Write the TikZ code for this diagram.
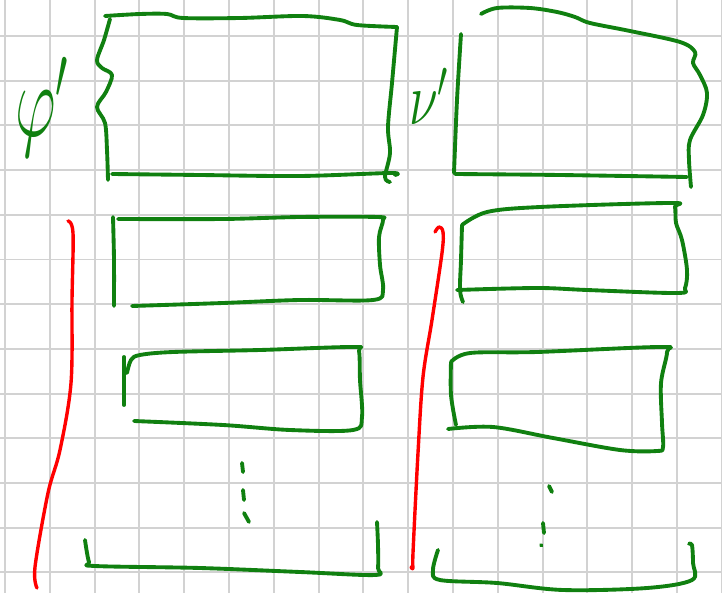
\documentclass[tikz,border=0pt]{standalone}
\usepackage{fix-cm}
\usepackage{graphicx}
\definecolor{inkgreen}{RGB}{16,128,16}
\definecolor{inkred}{RGB}{255,0,0}
\definecolor{gridgray}{RGB}{210,210,210}
\begin{document}
\begin{tikzpicture}[x=0.03cm,y=-0.03cm,line cap=round,line join=round,
  gridline/.style={gridgray,line width=1.7pt},
  pen/.style={inkgreen,line width=3.3pt},
  redpen/.style={inkred,line width=2.9pt},
  hand/.style={smooth,tension=0.55}]
  \useasboundingbox (0,0) rectangle (722,593);
  \fill[white] (0,0) rectangle (722,593);
  \foreach \gx in {0,...,16} \draw[gridline] ({5+44.8*\gx},0) -- ({5+44.8*\gx},593);
  \foreach \gy in {0,...,12} \draw[gridline] (0,{36+44.7*\gy}) -- (722,{36+44.7*\gy});
  % labels
  \node[inkgreen,anchor=base west,inner sep=0pt] (phi) at (15,137) {\fontsize{90}{90}\selectfont\scalebox{0.6}[1]{$\varphi'$}};
  \node[inkgreen,anchor=base west,inner sep=0pt] (nu) at (409,125) {\fontsize{64}{64}\selectfont\scalebox{0.7}[1]{$\nu'$}};
  % top left block
  \draw[pen] plot[hand] coordinates {(110,19) (104,40) (97,60) (102,68) (112,75) (106,92) (97,107) (105,123) (107,150) (108,180)};
  \draw[pen] plot[hand] coordinates {(105,16) (140,14) (167,14) (183,18) (240,18) (303,16) (340,20) (357,25) (397,27)};
  \draw[pen] plot[hand] coordinates {(397,27) (392,83) (388,127) (390,153) (385,177) (390,182)};
  \draw[pen] plot[hand] coordinates {(112,174) (200,175) (300,176) (390,173) (395,175)};
  % top right block
  \draw[pen] plot[hand] coordinates {(481,14) (497,8) (530,8) (557,12) (575,17) (590,23) (630,31) (680,42) (695,52) (693,63) (700,75) (707,93) (703,115) (690,140) (689,160) (691,187)};
  \draw[pen] plot[hand] coordinates {(461,34) (457,100) (454,173)};
  \draw[pen] plot[hand] coordinates {(455,174) (560,175) (687,177)};
  % middle left
  \draw[pen] plot[hand] coordinates {(113,217) (114,260) (114,306)};
  \draw[pen] plot[hand] coordinates {(118,219) (223,219) (300,217) (377,217) (383,220) (379,237) (380,265) (383,290) (373,300) (300,300) (223,303) (132,306)};
  \draw[pen] plot[hand] coordinates {(124,357) (124,405)};
  \draw[pen] plot[hand] coordinates {(127,373) (131,360) (140,355) (173,352) (260,350) (353,347) (359,351) (360,380) (362,417) (353,430) (290,430) (223,425) (134,421)};
  % middle right
  \draw[pen] plot[hand] coordinates {(462,225) (461,260) (460,290) (463,302)};
  \draw[pen] plot[hand] coordinates {(462,225) (487,212) (540,207) (670,203) (675,207) (676,223) (682,240) (687,270) (685,288) (677,293) (587,290) (537,288) (457,290)};
  \draw[pen] plot[hand] coordinates {(451,362) (451,395) (456,425)};
  \draw[pen] plot[hand] coordinates {(451,362) (470,353) (537,352) (660,347) (667,352) (661,383) (662,423) (663,447) (657,451) (620,450) (553,438) (493,427) (448,429)};
  % bottom brackets
  \draw[pen] plot[hand] coordinates {(85,540) (89,562) (95,566) (200,568) (300,572) (375,575) (378,568) (378,545) (377,522)};
  \draw[pen] plot[hand] coordinates {(438,550) (433,570) (440,580) (497,583) (563,590) (647,588) (692,580) (693,563) (692,545) (689,544)};
  % dots
  \draw[pen] (242,463) -- (243,472);
  \draw[pen] (243,490) -- (244,500);
  \draw[pen] (244,513) -- (249,522);
  \draw[pen] (549,486) -- (552,492);
  \draw[pen] (543,523) -- (544,533);
  \draw[pen] (541,545) -- (541.5,545.5);
  % red strokes
  \draw[redpen] plot[hand] coordinates {(68,221) (73,233) (72,300) (71,383) (60,450) (48,493) (35,567) (37,588)};
  \draw[redpen] plot[hand] coordinates {(435,232) (439,227) (443,232) (442,253) (432,320) (423,377) (418,453) (413,553) (413,568) (411,567)};
\end{tikzpicture}
\end{document}
